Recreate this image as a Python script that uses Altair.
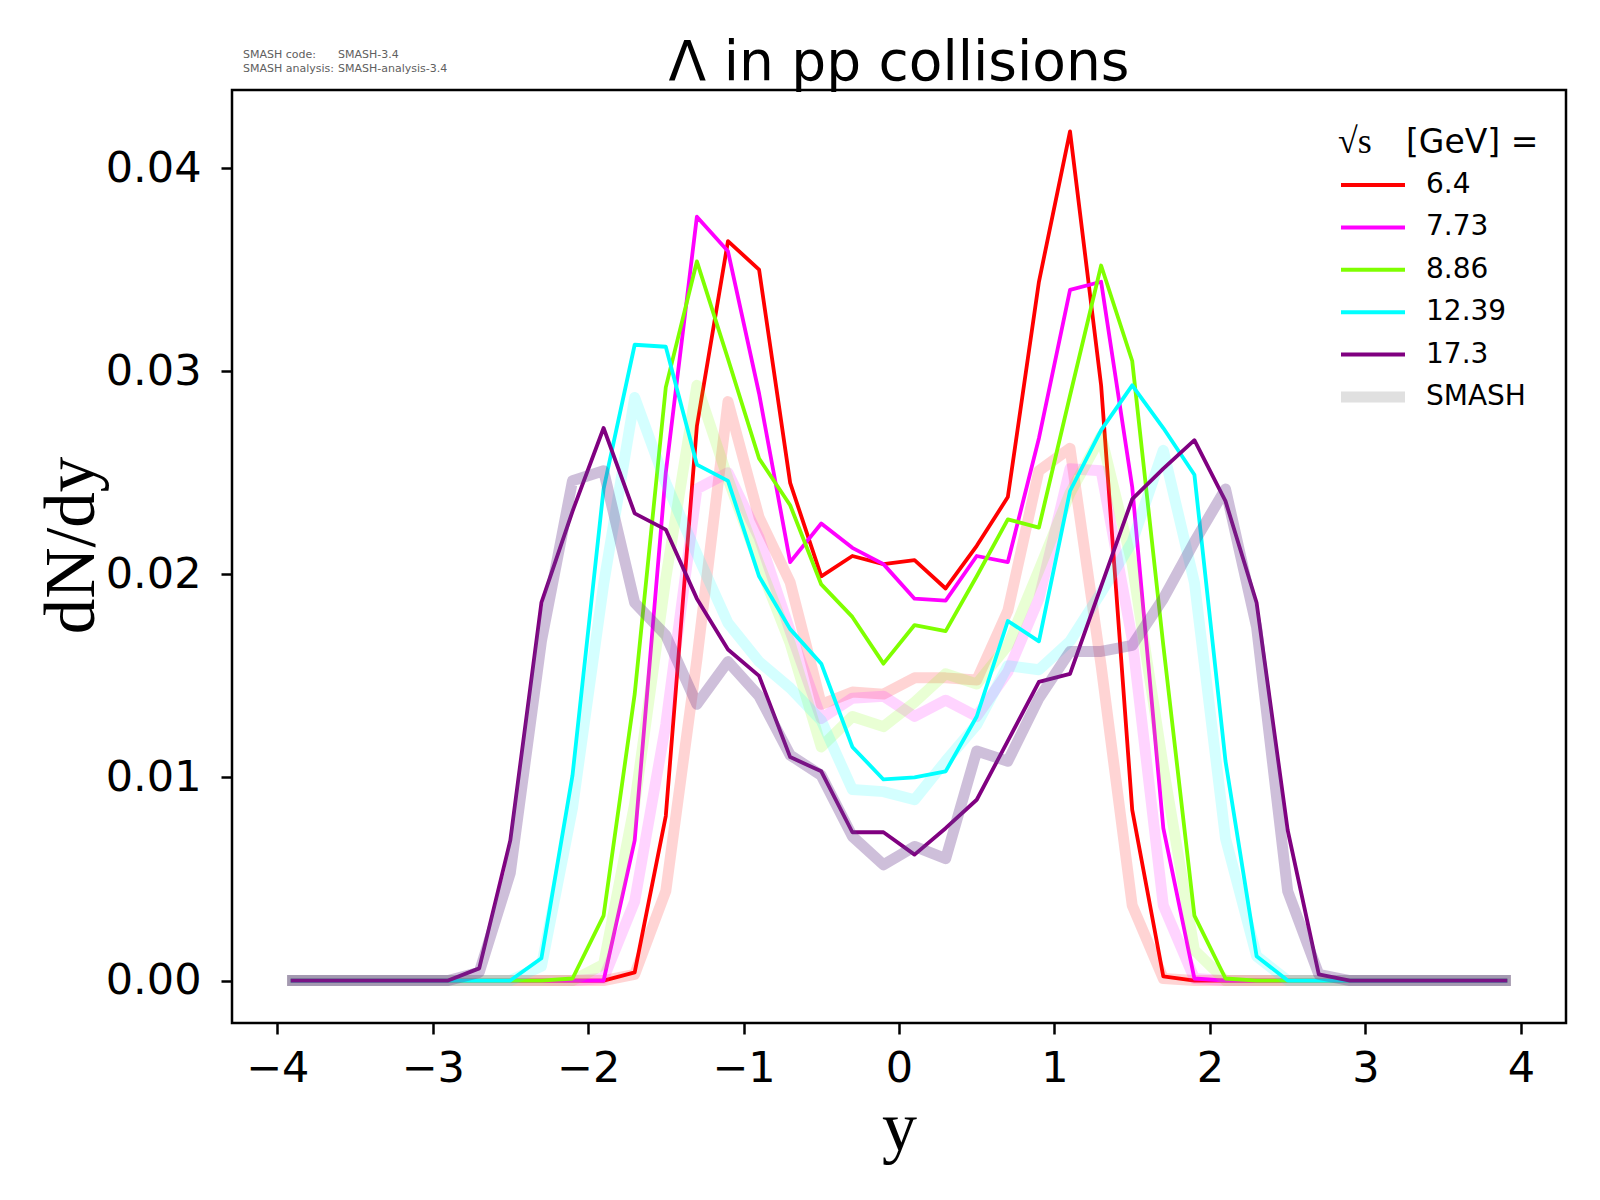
import altair as alt
import pandas as pd

# rapidity bin centres
rap = [-3.9, -3.7, -3.5, -3.3, -3.1, -2.9, -2.7, -2.5, -2.3, -2.1,
       -1.9, -1.7, -1.5, -1.3, -1.1, -0.9, -0.7, -0.5, -0.3, -0.1,
       0.1, 0.3, 0.5, 0.7, 0.9, 1.1, 1.3, 1.5, 1.7, 1.9,
       2.1, 2.3, 2.5, 2.7, 2.9, 3.1, 3.3, 3.5, 3.7, 3.9]

energies = ["6.4", "7.73", "8.86", "12.39", "17.3"]
colors = ["#ff0000", "#ff00ff", "#7fff00", "#00ffff", "#800080"]
smash_colors = ["#ff0000", "#ff00ff", "#7fff00", "#00ffff", "#6a3d8f"]
smash_opacity = [0.17, 0.17, 0.17, 0.17, 0.33]

# thin lines (reference values)
data_64 = [0, 0, 0, 0, 0, 0, 0, 0, 0, 0,
           0.0, 0.0004, 0.0081, 0.0273, 0.0364, 0.0350, 0.0245, 0.0199, 0.0209, 0.0205,
           0.0207, 0.0193, 0.0214, 0.0238, 0.0344, 0.0418, 0.0293, 0.0084, 0.0002, 0.0,
           0, 0, 0, 0, 0, 0, 0, 0, 0, 0]
data_773 = [0, 0, 0, 0, 0, 0, 0, 0, 0, 0,
            0.0, 0.0069, 0.0250, 0.0376, 0.0359, 0.0289, 0.0206, 0.0225, 0.0213, 0.0205,
            0.0188, 0.0187, 0.0209, 0.0206, 0.0267, 0.0340, 0.0344, 0.0243, 0.0075, 0.0001,
            0, 0, 0, 0, 0, 0, 0, 0, 0, 0]
data_886 = [0, 0, 0, 0, 0, 0, 0, 0, 0, 0.0001,
            0.0032, 0.0141, 0.0292, 0.0354, 0.0306, 0.0257, 0.0234, 0.0195, 0.0179, 0.0156,
            0.0175, 0.0172, 0.0199, 0.0227, 0.0223, 0.0288, 0.0352, 0.0305, 0.0165, 0.0032,
            0.0001, 0, 0, 0, 0, 0, 0, 0, 0, 0]
data_1239 = [0, 0, 0, 0, 0, 0, 0, 0, 0.0011, 0.0101,
             0.0242, 0.0313, 0.0312, 0.0254, 0.0246, 0.0199, 0.0173, 0.0156, 0.0115, 0.0099,
             0.0100, 0.0103, 0.0130, 0.0177, 0.0167, 0.0241, 0.0271, 0.0293, 0.0272, 0.0249,
             0.0108, 0.0012, 0, 0, 0, 0, 0, 0, 0, 0]
data_173 = [0, 0, 0, 0, 0, 0, 0.0006, 0.0069, 0.0186, 0.0231,
            0.0272, 0.0230, 0.0222, 0.0188, 0.0163, 0.0150, 0.0110, 0.0103, 0.0073, 0.0073,
            0.0062, 0.0075, 0.0089, 0.0118, 0.0147, 0.0151, 0.0194, 0.0237, 0.0252, 0.0266,
            0.0236, 0.0186, 0.0074, 0.0003, 0, 0, 0, 0, 0, 0]

# thick faded lines (SMASH)
smash_64 = [0, 0, 0, 0, 0, 0, 0, 0, 0, 0,
            0.0, 0.0003, 0.0044, 0.0158, 0.0285, 0.0228, 0.0196, 0.0136, 0.0142, 0.0141,
            0.0149, 0.0149, 0.0148, 0.0182, 0.0251, 0.0262, 0.0155, 0.0037, 0.0001, 0,
            0, 0, 0, 0, 0, 0, 0, 0, 0, 0]
smash_773 = [0, 0, 0, 0, 0, 0, 0, 0, 0, 0,
             0.0001, 0.0039, 0.0126, 0.0242, 0.0250, 0.0218, 0.0172, 0.0129, 0.0139, 0.0140,
             0.0130, 0.0138, 0.0130, 0.0152, 0.0188, 0.0252, 0.0251, 0.0168, 0.0037, 0.0001,
             0, 0, 0, 0, 0, 0, 0, 0, 0, 0]
smash_886 = [0, 0, 0, 0, 0, 0, 0, 0, 0, 0,
             0.0008, 0.0087, 0.0198, 0.0293, 0.0247, 0.0205, 0.0166, 0.0115, 0.0130, 0.0125,
             0.0137, 0.0151, 0.0146, 0.0165, 0.0202, 0.0240, 0.0268, 0.0205, 0.0105, 0.0015,
             0, 0, 0, 0, 0, 0, 0, 0, 0, 0]
smash_1239 = [0, 0, 0, 0, 0, 0, 0, 0, 0.0007, 0.0085,
              0.0195, 0.0287, 0.0245, 0.0210, 0.0176, 0.0157, 0.0144, 0.0128, 0.0094, 0.0093,
              0.0089, 0.0108, 0.0126, 0.0155, 0.0153, 0.0167, 0.0191, 0.0216, 0.0261, 0.0196,
              0.0070, 0.0012, 0, 0, 0, 0, 0, 0, 0, 0]
smash_173 = [0, 0, 0, 0, 0, 0, 0.0004, 0.0053, 0.0167, 0.0246,
             0.0251, 0.0186, 0.0170, 0.0136, 0.0157, 0.0140, 0.0111, 0.0101, 0.0071, 0.0057,
             0.0066, 0.0060, 0.0113, 0.0108, 0.0139, 0.0162, 0.0162, 0.0165, 0.0188, 0.0216,
             0.0242, 0.0174, 0.0044, 0.0003, 0, 0, 0, 0, 0, 0]

thin_series = [data_64, data_773, data_886, data_1239, data_173]
thick_series = [smash_64, smash_773, smash_886, smash_1239, smash_173]

x_ticks = [-4, -3, -2, -1, 0, 1, 2, 3, 4]
y_ticks = [0.0, 0.01, 0.02, 0.03, 0.04]

W, H = 1334, 933

X = alt.X("rap:Q",
          scale=alt.Scale(domain=[-4.29, 4.29], nice=False, zero=False),
          axis=alt.Axis(values=x_ticks, format="d",
                        labelExpr="replace(datum.label, '-', '\u2212')",
                        title="y", titleX=W / 2, titleY=126,
                        titleAlign="center", titleBaseline="alphabetic",
                        labelPadding=13, grid=False, domain=False,
                        labelFont="DejaVu Sans", labelFontSize=43, labelColor="black",
                        tickColor="black", tickWidth=2.5, tickSize=11,
                        titleFont="Liberation Serif", titleFontSize=70,
                        titleColor="black", titleFontWeight="normal"))
Y = alt.Y("val:Q",
          scale=alt.Scale(domain=[-0.00209, 0.04384], nice=False, zero=False),
          axis=alt.Axis(values=y_ticks, format=".2f",
                        title="dN/dy", titleAngle=270, titleX=-160, titleY=455,
                        titleAlign="center", titleBaseline="middle",
                        labelPadding=20, grid=False, domain=False,
                        labelFont="DejaVu Sans", labelFontSize=43, labelColor="black",
                        tickColor="black", tickWidth=2.5, tickSize=11,
                        titleFont="Liberation Serif", titleFontSize=71,
                        titleColor="black", titleFontWeight="normal"))

layers = []
for e, c, sc, thin, thick, op in zip(energies, colors, smash_colors, thin_series,
                                     thick_series, smash_opacity):
    d_thin = pd.DataFrame({"rap": rap, "val": thin})
    d_thick = pd.DataFrame({"rap": rap, "val": thick})
    layers.append(alt.Chart(d_thin).mark_line(color=c, strokeWidth=3.8,
                                              strokeJoin="round", strokeCap="square")
                  .encode(x=X, y=Y))
    layers.append(alt.Chart(d_thick).mark_line(color=sc, strokeWidth=11, opacity=op,
                                               strokeJoin="round", strokeCap="square")
                  .encode(x=X, y=Y))

# title
title_df = pd.DataFrame({"t": ["\u039b in pp collisions"]})
layers.append(alt.Chart(title_df).mark_text(font="DejaVu Sans", fontSize=55, align="center",
                                            baseline="alphabetic", color="black")
              .encode(text="t:N", x=alt.value(W / 2), y=alt.value(-10)))

# SMASH version info
info_left = ["SMASH code:", "SMASH analysis:"]
info_right = ["SMASH-3.4", "SMASH-analysis-3.4"]
for i, (a, b) in enumerate(zip(info_left, info_right)):
    yy = -35 + 14 * i
    layers.append(alt.Chart(pd.DataFrame({"t": [a]})).mark_text(
        font="DejaVu Sans", fontSize=11, align="left", baseline="middle", color="#606060")
        .encode(text="t:N", x=alt.value(11), y=alt.value(yy)))
    layers.append(alt.Chart(pd.DataFrame({"t": [b]})).mark_text(
        font="DejaVu Sans", fontSize=11, align="left", baseline="middle", color="#606060")
        .encode(text="t:N", x=alt.value(106), y=alt.value(yy)))

# legend
legend_labels = energies + ["SMASH"]
legend_colors = colors + ["#e0e0e0"]
legend_widths = [4, 4, 4, 4, 4, 11]
layers.append(alt.Chart(pd.DataFrame({"t": ["\u221as"]})).mark_text(
    font="Liberation Serif", fontSize=36, align="left", baseline="middle", color="black")
    .encode(text="t:N", x=alt.value(1106), y=alt.value(52)))
layers.append(alt.Chart(pd.DataFrame({"t": ["[GeV] ="]})).mark_text(
    font="DejaVu Sans", fontSize=33, align="left", baseline="middle", color="black")
    .encode(text="t:N", x=alt.value(1174), y=alt.value(53)))
for i, (lab, col, sw) in enumerate(zip(legend_labels, legend_colors, legend_widths)):
    yy = 95 + 42.4 * i
    layers.append(alt.Chart(pd.DataFrame({"t": [lab]})).mark_rule(color=col, strokeWidth=sw)
                  .encode(x=alt.value(1109), x2=alt.value(1173), y=alt.value(yy)))
    layers.append(alt.Chart(pd.DataFrame({"t": [lab]})).mark_text(
        font="DejaVu Sans", fontSize=28, align="left", baseline="middle", color="black")
        .encode(text="t:N", x=alt.value(1194), y=alt.value(yy)))

chart = alt.layer(*layers).properties(
    width=W, height=H,
    background="white",
    padding={"left": 224, "top": 82, "right": 26, "bottom": 170},
    autosize=alt.AutoSizeParams(type="none"),
).configure_view(
    stroke="black", strokeWidth=2.5, fill="white"
)

chart.save("out.html", embed_options={"renderer": "svg", "actions": False})
